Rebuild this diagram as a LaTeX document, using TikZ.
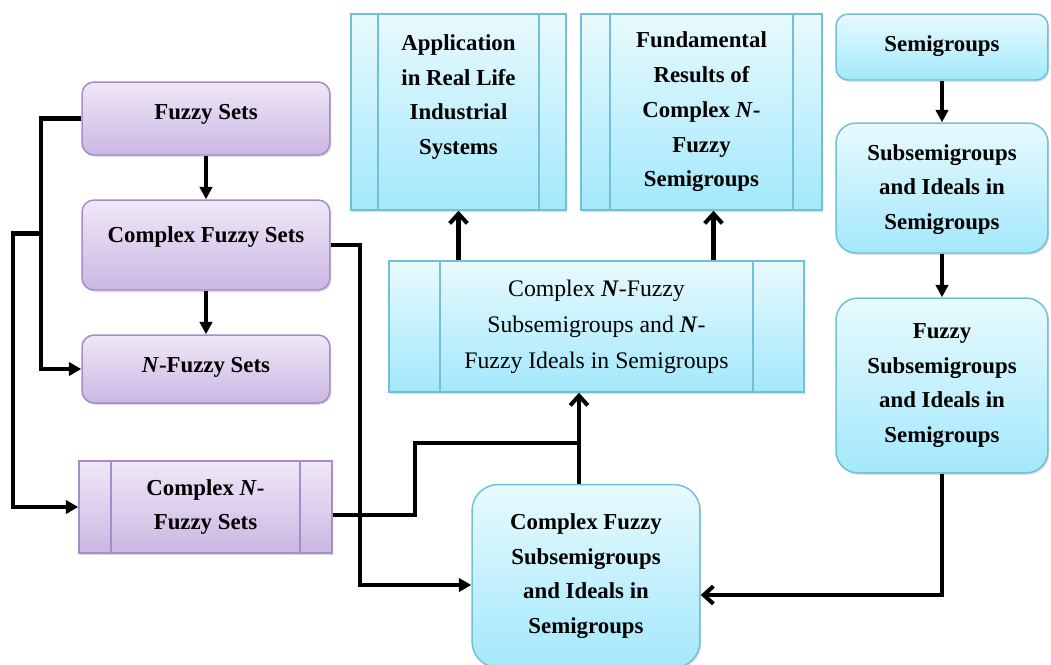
\documentclass[tikz,border=0pt]{standalone}
\usepackage{fontspec}
\setmainfont{Liberation Serif}
\usepackage{tikz}
\usetikzlibrary{arrows.meta,calc,shadows}
\definecolor{lilacTop}{HTML}{EFE8F7}
\definecolor{lilacBot}{HTML}{CBB7E3}
\definecolor{lilacLine}{HTML}{A68CC9}
\definecolor{skyTop}{HTML}{E8FAFE}
\definecolor{skyBot}{HTML}{A3E8FB}
\definecolor{skyLine}{HTML}{72C0D8}
\tikzset{
  fzBox/.style={line width=.85pt,align=center,inner sep=0pt,
        font=\fontsize{13}{19.8}\selectfont\bfseries,
        drop shadow={shadow xshift=.8pt,shadow yshift=-1pt,opacity=.28}},
  fzLilac/.style={fzBox,draw=lilacLine,top color=lilacTop,bottom color=lilacBot},
  fzSky/.style={fzBox,draw=skyLine,top color=skyTop,bottom color=skyBot},
  fzBars/.style 2 args={path picture={
        \draw[#2,line width=.85pt]
          ([xshift=#1]path picture bounding box.north west) --
          ([xshift=#1]path picture bounding box.south west)
          ([xshift=-#1]path picture bounding box.north east) --
          ([xshift=-#1]path picture bounding box.south east);}},
  fzLine/.style={line width=2.3pt},
  fzDown/.style={line width=1.8pt,-{Triangle[length=7pt,width=7pt]}},
  fzTip/.style={fzLine,-{Triangle[length=7pt,width=7.5pt]}},
  fzBarb/.style={fzLine,-{Straight Barb[length=5.5pt,width=10pt]}},
}
\newcommand{\fzUp}[2]{\raisebox{#1}{#2}}
\begin{document}
\begin{tikzpicture}[x=0.02cm,y=-0.02cm]
\useasboundingbox (0,0) rectangle (1051,664);
% left column
\node[fzLilac,rounded corners=2.4mm,minimum width=49.6mm,minimum height=14.6mm]
  (fs) at (206,118.5) {\fzUp{8pt}{Fuzzy Sets}};
\node[fzLilac,rounded corners=2.4mm,minimum width=49.6mm,minimum height=18mm]
  (cfs) at (206,245) {\fzUp{12pt}{Complex Fuzzy Sets}};
\node[fzLilac,rounded corners=2.4mm,minimum width=49.6mm,minimum height=13.6mm]
  (nfs) at (206,369) {\fzUp{5pt}{\textit{N}-Fuzzy Sets}};
\node[fzLilac,fzBars={6.4mm}{lilacLine},minimum width=50.6mm,minimum height=18.4mm]
  (cnfs) at (205.5,507) {Complex \textit{N}-\\Fuzzy Sets};
% middle
\node[fzSky,fzBars={5.4mm}{skyLine},minimum width=43mm,minimum height=39.2mm]
  (app) at (458.5,112) {Application\\in Real Life\\Industrial\\Systems\\\mbox{}};
\node[fzSky,fzBars={5.8mm}{skyLine},minimum width=48.2mm,minimum height=39.2mm]
  (fund) at (701.5,112) {Fundamental\\Results of\\Complex \textit{N}-\\Fuzzy\\Semigroups};
\node[fzSky,fzBars={10.2mm}{skyLine},minimum width=83mm,minimum height=26.2mm,
  font=\fontsize{13.5}{20.4}\selectfont]
  (cnfsub) at (596.5,326.5) {Complex \textbf{\textit{N}}-Fuzzy\\Subsemigroups and \textbf{\textit{N}}-\\Fuzzy Ideals in Semigroups};
\node[fzSky,rounded corners=5.2mm,minimum width=45.6mm,minimum height=36.6mm]
  (cfsub) at (586,576) {Complex Fuzzy\\Subsemigroups\\and Ideals in\\Semigroups};
% right column
\node[fzSky,rounded corners=2.4mm,minimum width=42.4mm,minimum height=13.2mm]
  (semi) at (942,47) {\fzUp{3.4pt}{Semigroups}};
\node[fzSky,rounded corners=4mm,minimum width=42.4mm,minimum height=26mm]
  (subsemi) at (942,188) {\fzUp{-4pt}{\begin{tabular}{@{}c@{}}Subsemigroups\\and Ideals in\\Semigroups\end{tabular}}};
\node[fzSky,rounded corners=4.4mm,minimum width=42.4mm,minimum height=35mm]
  (fsubsemi) at (942,385.5) {Fuzzy\\Subsemigroups\\and Ideals in\\Semigroups};
% connectors
\draw[fzDown] (fs) -- (cfs);
\draw[fzDown] (cfs) -- (nfs);
\draw[fzTip] (fs.west) -- ++(-40,0) |- (nfs.west);
\draw[fzTip] (fs.west) -- ++(-40,0) -- ++(0,115) -- ++(-28,0) |- (cnfs.west);
\draw[fzTip] (cfs.east) -- ++(29,0) |- ($(cfsub.west)+(0,9)$);
\coordinate (mg) at ($(cfsub.north)+(-7,-41)$);
\draw[fzLine] ($(cnfs.east)+(0,8)$) -- ++(82,0) |- (mg);
\draw[fzLine] ($(cfsub.north)+(-7,0)$) -- (mg);
\draw[fzBarb] (mg) -- (mg |- cnfsub.south);
\draw[fzBarb] (cnfsub.north -| app) -- (app.south);
\coordinate (fx) at ($(fund.south)+(12,0)$);
\draw[fzBarb] (cnfsub.north -| fx) -- (fx);
\draw[fzDown] (semi) -- (subsemi);
\draw[fzDown] (subsemi) -- (fsubsemi);
\draw[fzBarb] (fsubsemi.south) |- ($(cfsub.east)+(0,19)$);
\end{tikzpicture}
\end{document}
